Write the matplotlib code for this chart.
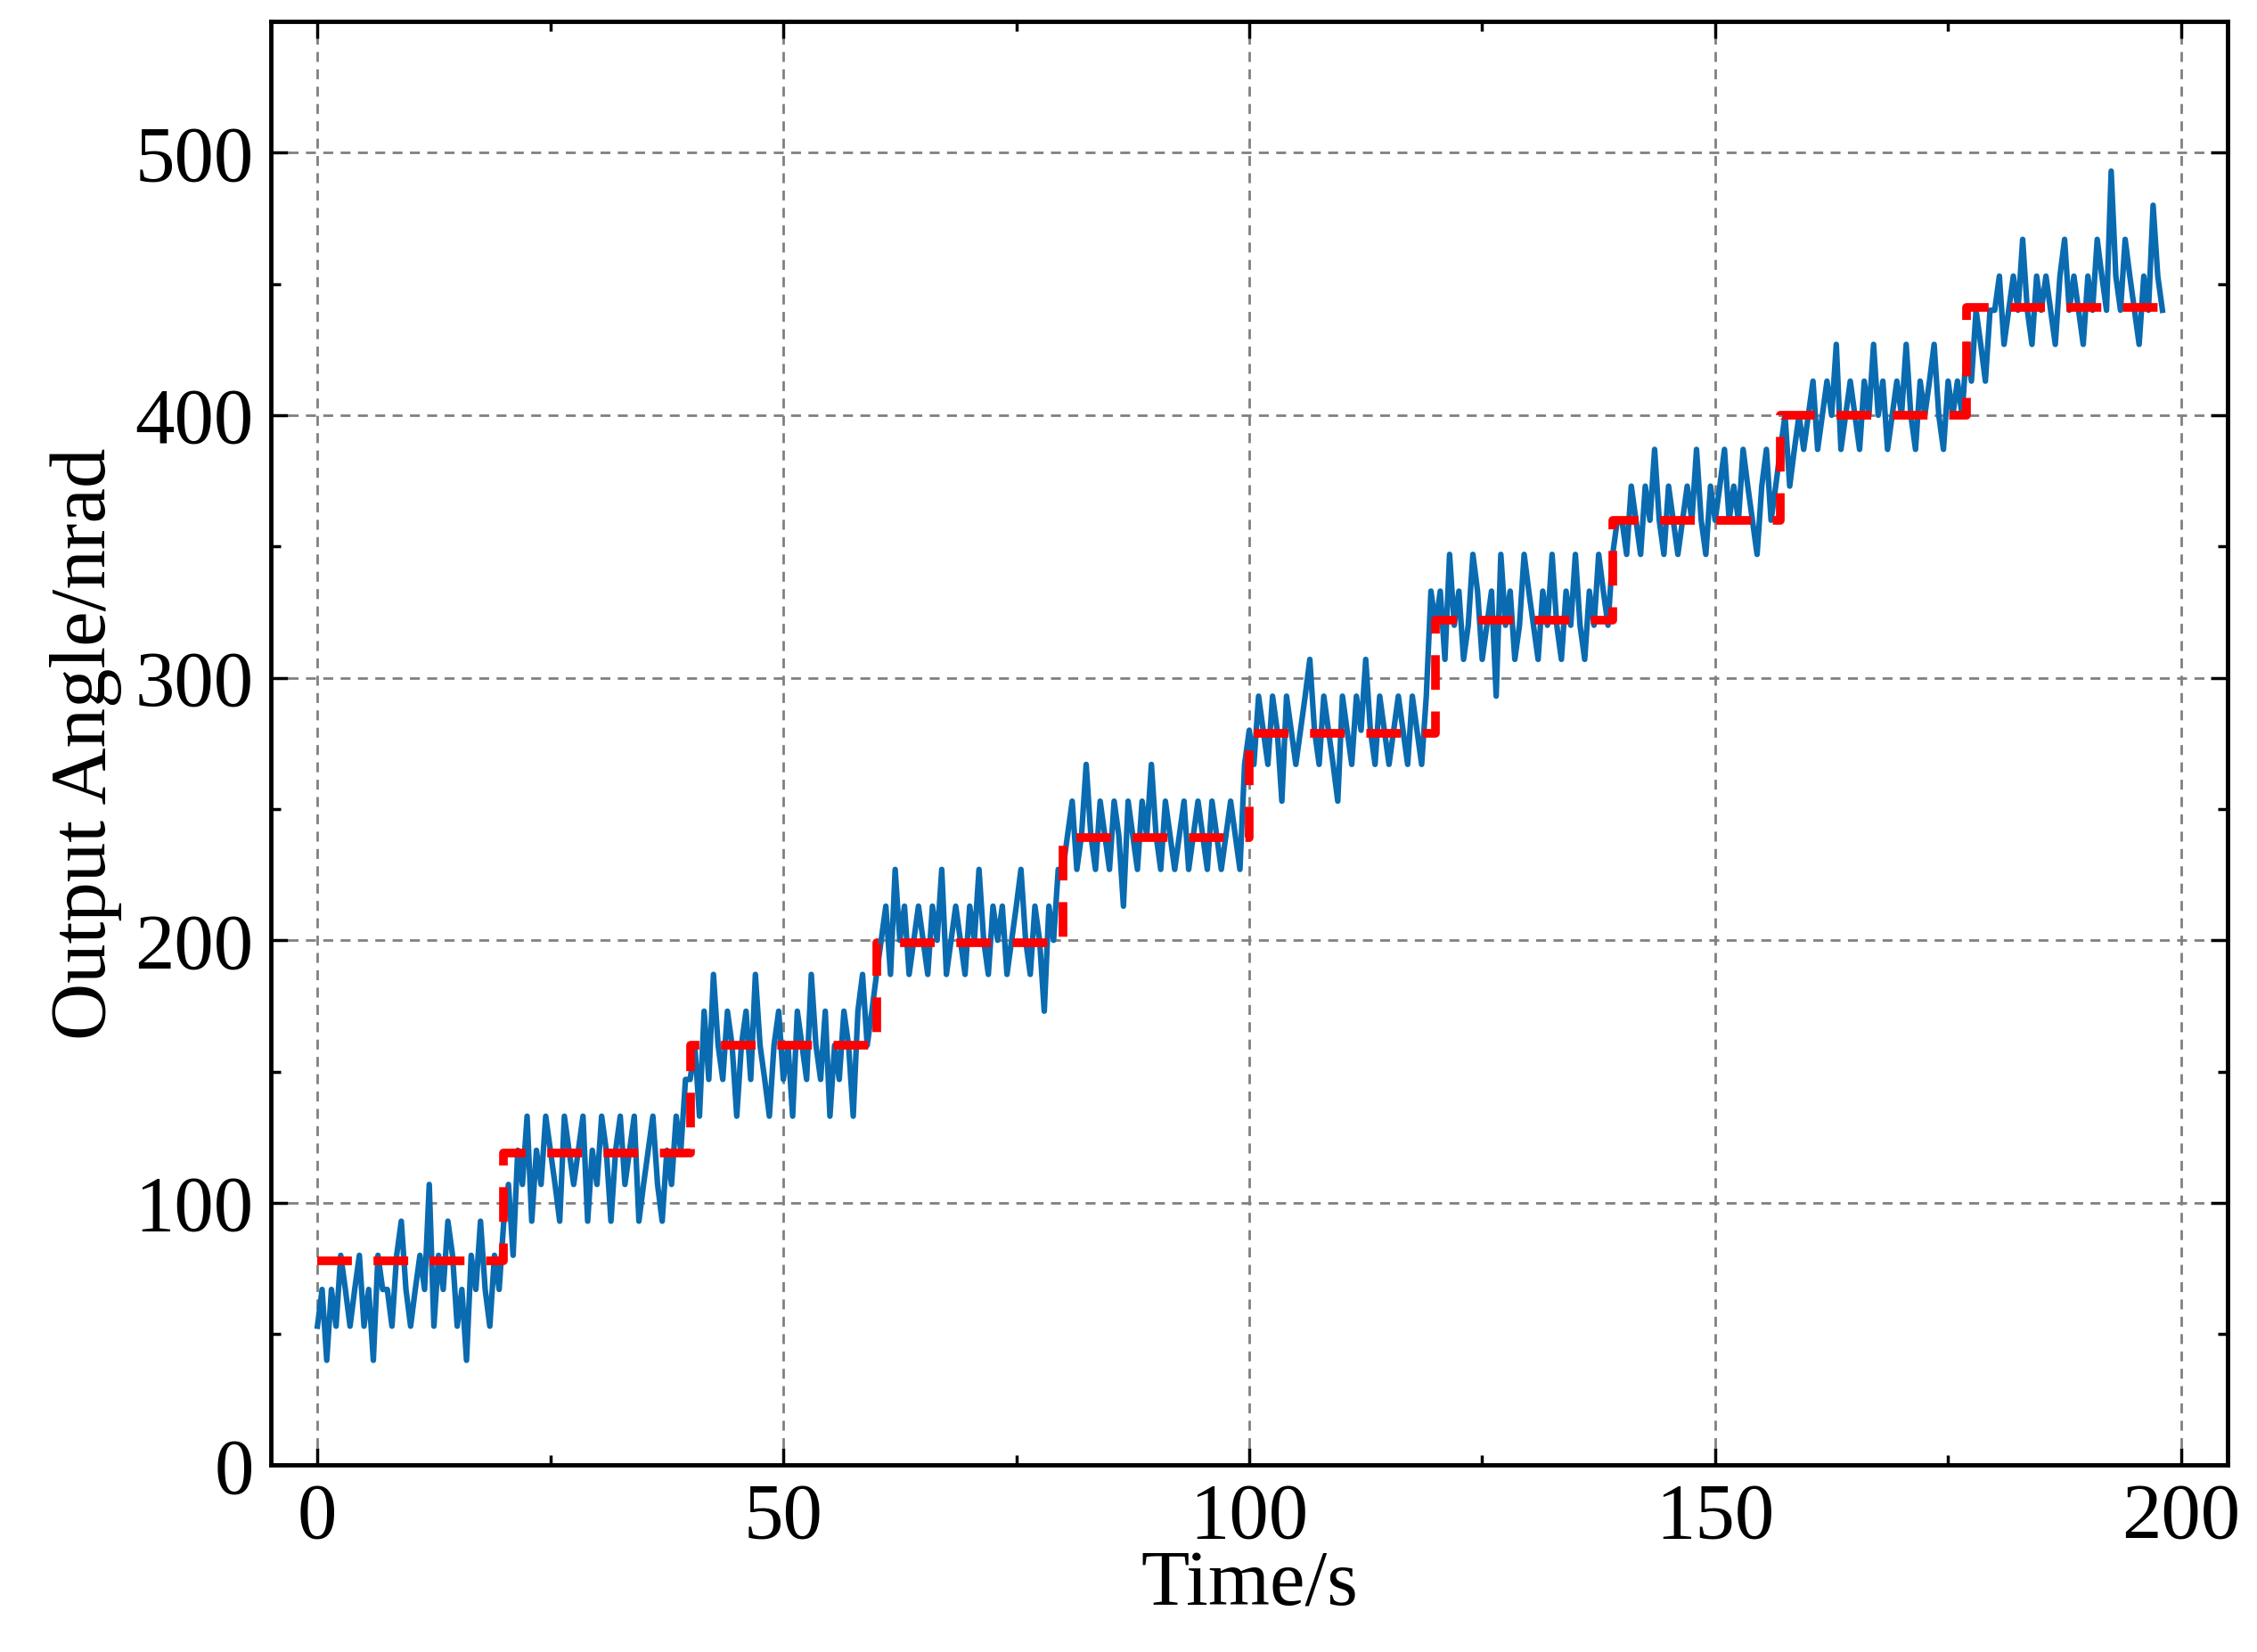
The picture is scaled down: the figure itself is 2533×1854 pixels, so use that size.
import numpy as np
import matplotlib
matplotlib.use("Agg")
import matplotlib.pyplot as plt

seg1 = [53,67,40,67,53,80,67,53,67,80,53,67,40,80,67,67,53,80,93,67,53,67,80,67,107,53,80,67,93,80,53,67,40,80,67,93,67,53,80,67]
seg2 = [93,107,80,120,107,133,93,120,107,133,120,107,93,133,120,107,120,133,93,120,107,133,120,93,120,133,107,120,133,93,107,120,133,107,93,120,107,133,120,147]
seg3 = [147,160,133,173,147,187,160,147,173,160,133,160,173,147,187,160,147,133,160,173,147,160,133,173,160,147,187,160,147,173,133,160,147,173,160,133,173,187,160,173]
seg4 = [187,200,213,187,227,200,213,187,200,213,200,187,213,200,227,187,200,213,200,187,213,200,227,200,187,213,200,213,187,200,213,227,200,187,213,200,173,213,200,227]
seg5 = [227,240,253,227,240,267,240,227,253,240,227,253,240,213,253,240,227,253,240,267,240,227,253,240,227,240,253,227,240,253,240,227,253,240,227,240,253,240,227,267]
seg6 = [280,267,293,280,267,293,280,253,293,280,267,280,293,307,280,267,293,280,267,253,293,280,267,293,280,307,280,267,293,280,267,280,293,280,267,293,280,267,293,333]
seg7 = [320,333,307,347,320,333,307,320,347,333,307,320,333,293,347,320,333,307,320,347,333,320,307,333,320,347,320,307,333,320,347,320,307,333,320,347,333,320,347,360]
seg8 = [360,347,373,360,347,373,360,387,360,347,373,360,347,360,373,360,387,360,347,373,360,373,387,360,373,360,387,373,360,347,373,387,360,373,387,400,373,387,400,387]
seg9 = [400,413,387,400,413,400,427,387,400,413,400,387,413,400,427,400,413,387,400,413,400,427,400,387,413,400,413,427,400,387,413,400,413,400,427,413,440,427,413,440]
seg10 = [440,453,427,440,453,440,467,440,427,453,440,453,440,427,453,467,440,453,440,427,453,440,467,453,440,493,453,440,467,453,440,427,453,440,480,453,440]
measured = seg1+seg2+seg3+seg4+seg5+seg6+seg7+seg8+seg9+seg10
time = np.arange(len(measured))*0.5

ref_t = [0,20,40,60,80,100,120,139,157,177,198]
ref_v = [78,119,160,199,239,279,322,360,400,441,441]

plt.rcParams['font.family'] = ['Liberation Serif', 'DejaVu Serif']
fig = plt.figure(figsize=(25.33,18.54), dpi=100)
ax = fig.add_axes([0.12,0.113,0.867,0.874])
ax.plot(time, measured, color='#0a6bb0', lw=4.5)
ax.plot(ref_t, ref_v, color='#ff0000', lw=7, ls=(0,(4,2.5)), drawstyle='steps-post')
ax.set_xlim(-5,205); ax.set_ylim(0,550)
ax.set_xticks([0,50,100,150,200]); ax.set_yticks([0,100,200,300,400,500])
ax.set_xticks(np.arange(25,200,50), minor=True)
ax.set_yticks(np.arange(50,550,100), minor=True)
ax.grid(True, which='major', ls=(0,(4,3)), color='#808080', lw=2)
ax.tick_params(which='both', direction='in', top=True, right=True, labelsize=64, width=2.5, pad=14)
ax.tick_params(which='major', length=14); ax.tick_params(which='minor', length=8)
for s in ax.spines.values(): s.set_linewidth(3.5)
ax.set_xlabel('Time/s', fontsize=64, labelpad=-4)
ax.set_ylabel('Output Angle/nrad', fontsize=64, labelpad=10)
fig.savefig('out.png', dpi=100)
